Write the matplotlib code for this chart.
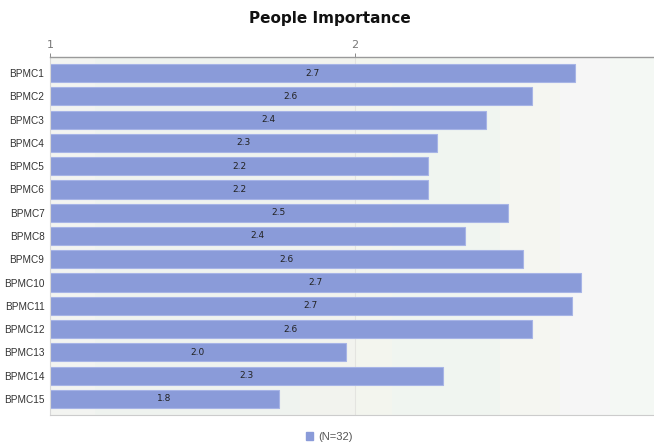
"""Horizontal bar chart of mean people-importance scores per BPMC item."""

import matplotlib.pyplot as plt
from matplotlib.patches import Patch
import numpy as np

ITEMS = [f"BPMC{i}" for i in range(1, 16)]
SCORES = [2.72, 2.58, 2.43, 2.27, 2.24, 2.24, 2.50, 2.36, 2.551,
          2.74, 2.71, 2.58, 1.97, 2.29, 1.751]
X_TICKS = [1, 2]
LEGEND_LABEL = "(N=32)"
TITLE = "People Importance"

# soft vertical bands behind the bars: (start, end, colour) in score units
BANDS = [
    (1.000, 1.148, "#f3f4f1"),
    (1.148, 1.820, "#eff3ef"),
    (1.820, 2.000, "#f2f3ee"),
    (2.000, 2.121, "#f3f5ee"),
    (2.121, 2.475, "#f0f5f0"),
    (2.475, 2.672, "#f5f6f1"),
    (2.672, 2.836, "#f6f6f6"),
    (2.836, 3.000, "#f4f8f4"),
]

BAR = "#8a9bd9"
BAR_EDGE = "#a7b4e6"
INK = "#222222"
MUTED = "#777777"

fig = plt.figure(figsize=(6.54, 4.43), dpi=100)
fig.patch.set_facecolor("white")
ax = fig.add_axes([50 / 654, 28 / 443, 610 / 654, 358 / 443])
ax.set_facecolor("white")

for start, end, colour in BANDS:
    ax.axvspan(start, end, color=colour, lw=0, zorder=0)
ax.axvline(2, color="#e4e4e0", lw=0.8, zorder=1)

y = np.arange(len(ITEMS))
widths = [s - 1 for s in SCORES]
bars = ax.barh(y, widths, left=1, height=0.78, color=BAR,
               edgecolor=BAR_EDGE, linewidth=0.8, zorder=2)

for bar, score in zip(bars, SCORES):
    ax.text(bar.get_x() + bar.get_width() / 2, bar.get_y() + bar.get_height() / 2,
            f"{score:.1f}", ha="center", va="center", fontsize=6.5,
            color=INK, zorder=3)

ax.set_xlim(1, 3)
ax.set_ylim(len(ITEMS) - 0.31, -0.69)
ax.xaxis.tick_top()
ax.set_xticks(X_TICKS, [str(t) for t in X_TICKS])
ax.tick_params(axis="x", colors=MUTED, labelsize=8, length=3, width=0.6, pad=2)
ax.set_yticks(y, ITEMS)
ax.tick_params(axis="y", length=0, labelsize=7.2, labelcolor="#333333", pad=4)
for label in ax.get_yticklabels():
    label.set_fontfamily("Liberation Sans")

ax.spines["right"].set_visible(False)
ax.spines["top"].set_color("#9a9a9a")
ax.spines["top"].set_linewidth(1.0)
ax.spines["bottom"].set_color("#cccccc")
ax.spines["left"].set_color("#d8d8d8")

fig.text(0.505, 1 - 19 / 443, TITLE, ha="center", va="center",
         fontsize=11, fontweight="bold", color="#111111")

fig.legend(handles=[Patch(facecolor=BAR, edgecolor=BAR)], labels=[LEGEND_LABEL],
           loc="center", bbox_to_anchor=(0.503, 1 - 437 / 443), frameon=False,
           handlelength=0.7, handleheight=0.7, handletextpad=0.4,
           prop={"family": "Liberation Sans", "size": 8}, labelcolor="#555555")

fig.savefig("out.png", dpi=100, facecolor="white")
